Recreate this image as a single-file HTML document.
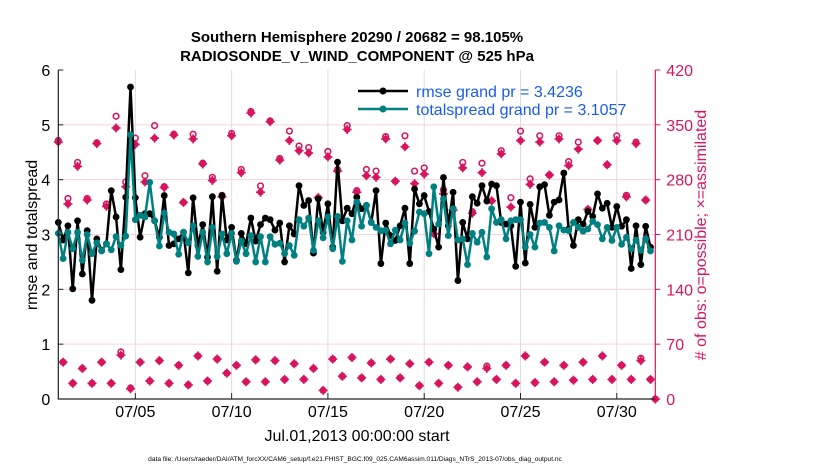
<!DOCTYPE html>
<html><head><meta charset="utf-8"><style>
body{margin:0;background:#fff;}
svg text{font-family:"Liberation Sans",sans-serif;}
</style></head><body>
<svg id="chart" width="830" height="470" xmlns="http://www.w3.org/2000/svg">
<rect x="0" y="0" width="830" height="470" fill="#fff"/>
<g id="grid"></g>
<g id="obs"></g>
<g id="series"></g>
<g id="axes"></g>
<text x="357" y="42" text-anchor="middle" font-size="15" font-weight="bold">Southern Hemisphere 20290 / 20682 = 98.105%</text>
<text x="357" y="61" text-anchor="middle" font-size="15" font-weight="bold">RADIOSONDE_V_WIND_COMPONENT @ 525 hPa</text>
<text transform="translate(37,235) rotate(-90)" text-anchor="middle" font-size="16">rmse and totalspread</text>
<text transform="translate(706,235) rotate(-90)" text-anchor="middle" font-size="16" fill="#d6155e"># of obs: o=possible; ×=assimilated</text>
<text x="357" y="441" text-anchor="middle" font-size="16">Jul.01,2013 00:00:00 start</text>
<text x="355" y="461" text-anchor="middle" font-size="6.6">data file: /Users/raeder/DAI/ATM_forcXX/CAM6_setup/f.e21.FHIST_BGC.f09_025.CAM6assim.011/Diags_NTrS_2013-07/obs_diag_output.nc</text>
<g>
<line x1="358" y1="91" x2="408" y2="91" stroke="#000" stroke-width="2.5"/><circle cx="383" cy="91" r="3.5" fill="#000"/>
<text x="416" y="97" font-size="16" fill="#1a5cf0">rmse grand pr = 3.4236</text>
<line x1="358" y1="109" x2="408" y2="109" stroke="#008080" stroke-width="2.5"/><circle cx="383" cy="109" r="3.5" fill="#008080"/>
<text x="416" y="115" font-size="16" fill="#1a5cf0">totalspread grand pr = 3.1057</text>
</g>
</svg>
<script>
const rmse=[3.22,2.9,3.16,2.01,3.25,2.28,3.07,1.8,2.92,2.71,2.83,3.8,3.32,2.36,3.68,5.69,3.67,2.95,3.38,3.38,3.25,2.95,3.71,2.8,2.83,2.92,3.04,2.3,3.67,2.8,3.18,2.59,
3.69,2.33,3.71,2.9,3.13,2.53,3.02,2.83,3.3,2.88,3.18,3.3,3.27,3.08,3.21,2.5,3.16,3.01,3.89,3.53,3.62,2.66,3.65,3.04,3.56,2.77,4.32,3.25,3.48,3.38,
3.68,3.47,3.53,3.22,3.8,2.47,3.21,2.98,2.89,3.16,3.48,2.47,3.83,3.56,3.71,3.42,3.1,2.77,4.04,3.16,3.77,2.16,3.22,2.92,3.69,3.57,3.89,3.61,3.92,3.89,
3.22,3.19,3.16,2.42,3.59,2.48,3.55,3.13,3.87,3.91,3.35,3.59,3.63,4.12,3.1,2.8,3.27,3.19,3.42,3.33,3.74,3.48,3.57,3.13,3.51,3.15,3.27,2.38,3.16,2.45,3.15,2.77];
const spread=[3.02,2.56,3.04,2.74,3.04,2.53,3.0,2.65,2.85,2.7,2.83,2.72,2.96,2.8,2.97,4.82,3.27,3.35,3.32,3.95,3.25,2.79,3.39,3.04,3.01,2.64,3.04,2.85,3.16,2.6,3.04,2.5,
3.13,2.6,3.01,2.65,3.02,2.51,2.88,2.65,2.98,2.5,2.96,2.5,2.96,2.82,2.84,2.65,2.8,2.62,3.27,3.15,3.3,2.71,3.25,2.94,3.32,2.74,3.33,2.51,3.25,2.9,
3.59,3.15,3.53,3.22,3.13,3.07,3.08,2.83,3.08,2.9,3.21,2.84,3.06,3.41,3.38,2.65,3.87,3.19,3.65,2.98,3.47,2.9,2.92,2.45,3.02,2.86,3.04,2.59,3.47,3.22,
3.27,2.92,3.25,3.27,3.27,2.77,3.0,2.77,3.21,3.22,3.13,2.7,3.16,3.08,3.07,3.22,3.13,3.06,3.1,3.24,3.18,2.92,3.13,2.89,3.13,2.82,2.95,2.74,2.9,2.71,2.92,2.7];
const topAssim=[328,249,297,254,326,246,346,271,325,277,333,270,337,251,332,300,279,258,336,289,365,264,354,305,330,317,314,257,309,291,344,264,285,283,332,278,322,275,287,211,262,241,295,237,289,253,313,245,330,274,328,286,332,298,319,242,330,299,330,258,326,254,0];
const topPoss=[330,256,302,256,327,249,361,277,333,285,349,271,338,251,338,301,283,260,339,293,367,272,355,307,342,323,321,257,316,293,349,266,293,291,335,278,336,291,295,211,267,243,302,239,301,253,317,257,342,281,336,286,336,303,328,242,330,299,336,260,328,254,0];
const botAssim=[47,20,39,20,47,20,56,13,47,23,49,20,43,18,55,23,51,33,43,22,50,22,49,25,45,25,39,11,51,29,53,27,46,25,51,27,45,17,47,20,43,15,41,22,39,25,43,20,55,21,47,22,43,24,47,25,55,25,43,25,49,25];
const botPoss=[47,20,39,20,47,20,60,14,47,23,49,20,43,18,55,23,51,33,43,22,50,22,49,25,45,25,39,11,51,29,53,27,46,25,51,27,45,17,47,20,43,15,41,22,42,25,43,20,55,21,47,22,43,24,47,25,55,25,43,25,52,25];
const yTicks=[0,1,2,3,4,5,6];
const y2Ticks=[0,70,140,210,280,350,420];
const xTickDays=[4,9,14,19,24,29];
const xTickLabels=["07/05","07/10","07/15","07/20","07/25","07/30"];
const stepDays=0.25;

const X0=58.3,X1=655.3,Y0=399,Y1=70;
const xs=d=>X0+(d/31)*(X1-X0);
const ys=v=>Y0-(v/6)*(Y0-Y1);
const y2s=v=>Y0-(v/420)*(Y0-Y1);
const NS="http://www.w3.org/2000/svg";
function mk(tag,attrs,parent){const e=document.createElementNS(NS,tag);for(const k in attrs)e.setAttribute(k,attrs[k]);parent.appendChild(e);return e;}
const grid=document.getElementById('grid'),axes=document.getElementById('axes'),ser=document.getElementById('series'),obs=document.getElementById('obs');
const RED="#d6155e";
mk('rect',{x:X0,y:Y1,width:X1-X0,height:Y0-Y1,fill:'#fff'},grid);
xTickDays.forEach((d,i)=>{
 const g=mk('line',{x1:xs(d),x2:xs(d),y1:Y1,y2:Y0,stroke:'#ddd','stroke-width':1},grid);
 
 
 mk('line',{x1:xs(d),x2:xs(d),y1:Y0,y2:Y0-6,stroke:'#222'},axes);
 const t=mk('text',{x:xs(d),y:417,'text-anchor':'middle','font-size':16},axes);
 
 
 t.textContent=xTickLabels[i];
});
y2Ticks.forEach(v=>{
 if(v>0&&v<420){const g=mk('line',{x1:X0,x2:X1,y1:y2s(v),y2:y2s(v),stroke:'#f6d3df','stroke-width':1},grid);
 
 }
 mk('line',{x1:X1,x2:X1+5,y1:y2s(v),y2:y2s(v),stroke:RED},axes);
 const t=mk('text',{x:X1+11,y:y2s(v)+6,'font-size':16,fill:RED},axes);
 
 
 t.textContent=v;
});
yTicks.forEach(v=>{
 mk('line',{x1:X0,x2:X0+5,y1:ys(v),y2:ys(v),stroke:'#222'},axes);
 const t=mk('text',{x:X0-8,y:ys(v)+6,'text-anchor':'end','font-size':16},axes);
 
 
 t.textContent=v;
});
const ax=mk('path',{d:`M${X0},${Y1}V${Y0}H${X1}`,stroke:'#222',fill:'none','stroke-width':1.2},axes);


const ax2=mk('line',{x1:X1,x2:X1,y1:Y1,y2:Y0,stroke:RED,'stroke-width':1.2},axes);



const assimAll=[],possAll=[];
for(let k=0;k<topAssim.length;k++){
 assimAll.push(topAssim[k]);possAll.push(topPoss[k]);
 if(k<botAssim.length){assimAll.push(botAssim[k]);possAll.push(botPoss[k]);}
}
possAll.forEach((v,i)=>{
 const c=mk('circle',{cx:xs(i*stepDays),cy:y2s(v),r:2.8,fill:'none',stroke:RED,'stroke-width':1.6},obs);
 
 
});
assimAll.forEach((v,i)=>{
 const x=xs(i*stepDays),y=y2s(v);
 const g=mk('g',{stroke:RED,'stroke-width':1.6},obs);
 
 
 mk('line',{x1:x-4.5,x2:x+4.5,y1:y,y2:y},g);
 mk('line',{x1:x,x2:x,y1:y-4.5,y2:y+4.5},g);
 mk('circle',{cx:x,cy:y,r:3.3,fill:RED,stroke:'none'},g);
});
function drawSeries(arr,color,name){
 const d=arr.map((v,i)=>(i?'L':'M')+xs(i*stepDays).toFixed(2)+','+ys(v).toFixed(2)).join('');
 const p=mk('path',{d:d,stroke:color,'stroke-width':2.5,fill:'none','stroke-linejoin':'round'},ser);
 
 
 arr.forEach((v,i)=>{
  const c=mk('circle',{cx:xs(i*stepDays),cy:ys(v),r:3.4,fill:color},ser);
  
  
 });
}
drawSeries(rmse,'#000','rmse');
drawSeries(spread,'#008080','totalspread');
</script>
</body></html>
